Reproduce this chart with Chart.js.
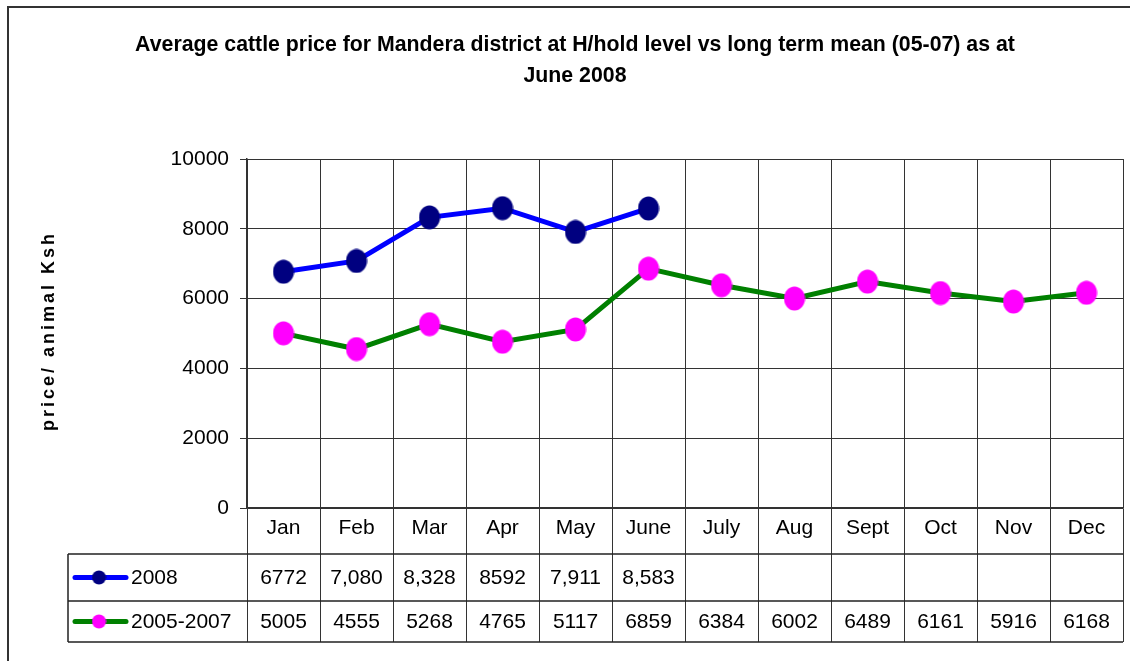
<!DOCTYPE html>
<html>
<head>
<meta charset="utf-8">
<script src="https://cdn.jsdelivr.net/npm/chart.js@4/dist/chart.umd.min.js"></script>
<style>
  body { margin: 0; background: #fff; }
  canvas { display: block; }
</style>
</head>
<body>
<canvas id="chart" width="1130" height="661"></canvas>
<script>
// chart values
const months = ["Jan", "Feb", "Mar", "Apr", "May", "June", "July", "Aug", "Sept", "Oct", "Nov", "Dec"];
const price2008 = [6772, 7080, 8328, 8592, 7911, 8583, null, null, null, null, null, null];
const priceMean = [5005, 4555, 5268, 4765, 5117, 6859, 6384, 6002, 6489, 6161, 5916, 6168];
const table2008 = ["6772", "7,080", "8,328", "8592", "7,911", "8,583", "", "", "", "", "", ""];
const tableMean = ["5005", "4555", "5268", "4765", "5117", "6859", "6384", "6002", "6489", "6161", "5916", "6168"];
const yTicks = [0, 2000, 4000, 6000, 8000, 10000];

const FONT = "'Liberation Sans', Arial, sans-serif";

// elliptical marker images (taller than wide, like the original)
function ellipse(w, h, color) {
  const c = document.createElement("canvas");
  c.width = w; c.height = h;
  const g = c.getContext("2d");
  g.fillStyle = color;
  g.beginPath();
  g.ellipse(w / 2, h / 2, w / 2 - 0.5, h / 2 - 0.5, 0, 0, Math.PI * 2);
  g.fill();
  return c;
}

const series = [
  { label: "2008", data: price2008, text: table2008, line: "#0000ff", dot: "#000080" },
  { label: "2005-2007", data: priceMean, text: tableMean, line: "#008000", dot: "#ff00ff" }
];

// frame, y title and the data table under the plot
const tablePlugin = {
  id: "tablePlugin",
  afterDraw(chart) {
    const ctx = chart.ctx;
    const area = chart.chartArea;
    const x = chart.scales.x;

    ctx.save();
    // outer frame (left and top edges are visible)
    ctx.strokeStyle = "#333";
    ctx.lineWidth = 2;
    ctx.beginPath();
    ctx.moveTo(8, 661);
    ctx.lineTo(8, 7);
    ctx.lineTo(1130, 7);
    ctx.stroke();

    // y axis title with wide letter spacing
    ctx.translate(49, 331);
    ctx.rotate(-Math.PI / 2);
    ctx.font = "bold 18px " + FONT;
    ctx.letterSpacing = "3px";
    ctx.fillStyle = "#000";
    ctx.textAlign = "center";
    ctx.textBaseline = "middle";
    ctx.fillText("price/ animal Ksh", 0, 0);
    ctx.restore();

    const rowTops = [area.bottom + 46, area.bottom + 93, area.bottom + 134];
    const tableLeft = 68;

    ctx.save();
    ctx.strokeStyle = "#222";
    ctx.lineWidth = 1.5;
    ctx.beginPath();
    rowTops.forEach(y => { ctx.moveTo(tableLeft, y); ctx.lineTo(area.right, y); });
    ctx.moveTo(tableLeft, rowTops[0]);
    ctx.lineTo(tableLeft, rowTops[2]);
    ctx.stroke();

    ctx.font = "21px " + FONT;
    ctx.fillStyle = "#000";
    ctx.textBaseline = "middle";
    series.forEach((s, r) => {
      const cy = (rowTops[r] + rowTops[r + 1]) / 2 + 1;
      // legend key
      ctx.strokeStyle = s.line;
      ctx.lineWidth = 5;
      ctx.lineCap = "round";
      ctx.beginPath();
      ctx.moveTo(75, cy - 1);
      ctx.lineTo(126, cy - 1);
      ctx.stroke();
      ctx.drawImage(ellipse(15, 15, s.dot), 99 - 7.5, cy - 1 - 7.5);
      ctx.textAlign = "left";
      ctx.fillText(s.label, 131, cy);
      // values
      ctx.textAlign = "center";
      s.text.forEach((t, i) => {
        if (t) ctx.fillText(t, x.getPixelForValue(i), cy);
      });
    });
    ctx.restore();
  }
};

new Chart(document.getElementById("chart"), {
  type: "line",
  data: {
    labels: months,
    datasets: series.map(s => ({
      label: s.label,
      data: s.data,
      borderColor: s.line,
      backgroundColor: s.dot,
      borderWidth: 5,
      tension: 0,
      pointStyle: ellipse(22, 25, s.dot),
      pointRadius: 11,
      spanGaps: false
    }))
  },
  options: {
    responsive: false,
    animation: false,
    layout: { autoPadding: false, padding: { left: 27, right: 7, top: 0, bottom: 0 } },
    plugins: {
      legend: { display: false },
      tooltip: { enabled: false },
      title: {
        display: true,
        text: [
          "Average cattle price for Mandera district at H/hold level vs long term mean (05-07) as at",
          "June 2008"
        ],
        color: "#000",
        font: { family: FONT, size: 21.3, weight: "bold", lineHeight: 1.48 },
        padding: { top: 29, bottom: 67 }
      }
    },
    scales: {
      x: {
        offset: true,
        grid: { offset: true, color: "#333", lineWidth: 1, tickLength: 134, drawTicks: true },
        border: { color: "#333", width: 1.5 },
        ticks: { color: "#000", font: { family: FONT, size: 21 }, padding: -126 },
        afterFit(scale) { scale.height = 153; }
      },
      y: {
        min: 0,
        max: 10000,
        afterBuildTicks(scale) { scale.ticks = yTicks.map(v => ({ value: v })); },
        grid: { color: "#333", lineWidth: 1, tickLength: 7 },
        border: { color: "#333", width: 1.5 },
        ticks: { color: "#000", font: { family: FONT, size: 21 }, padding: 11, callback: v => String(v) },
        afterFit(scale) { scale.width = 220; }
      }
    }
  },
  plugins: [tablePlugin]
});
</script>
</body>
</html>
